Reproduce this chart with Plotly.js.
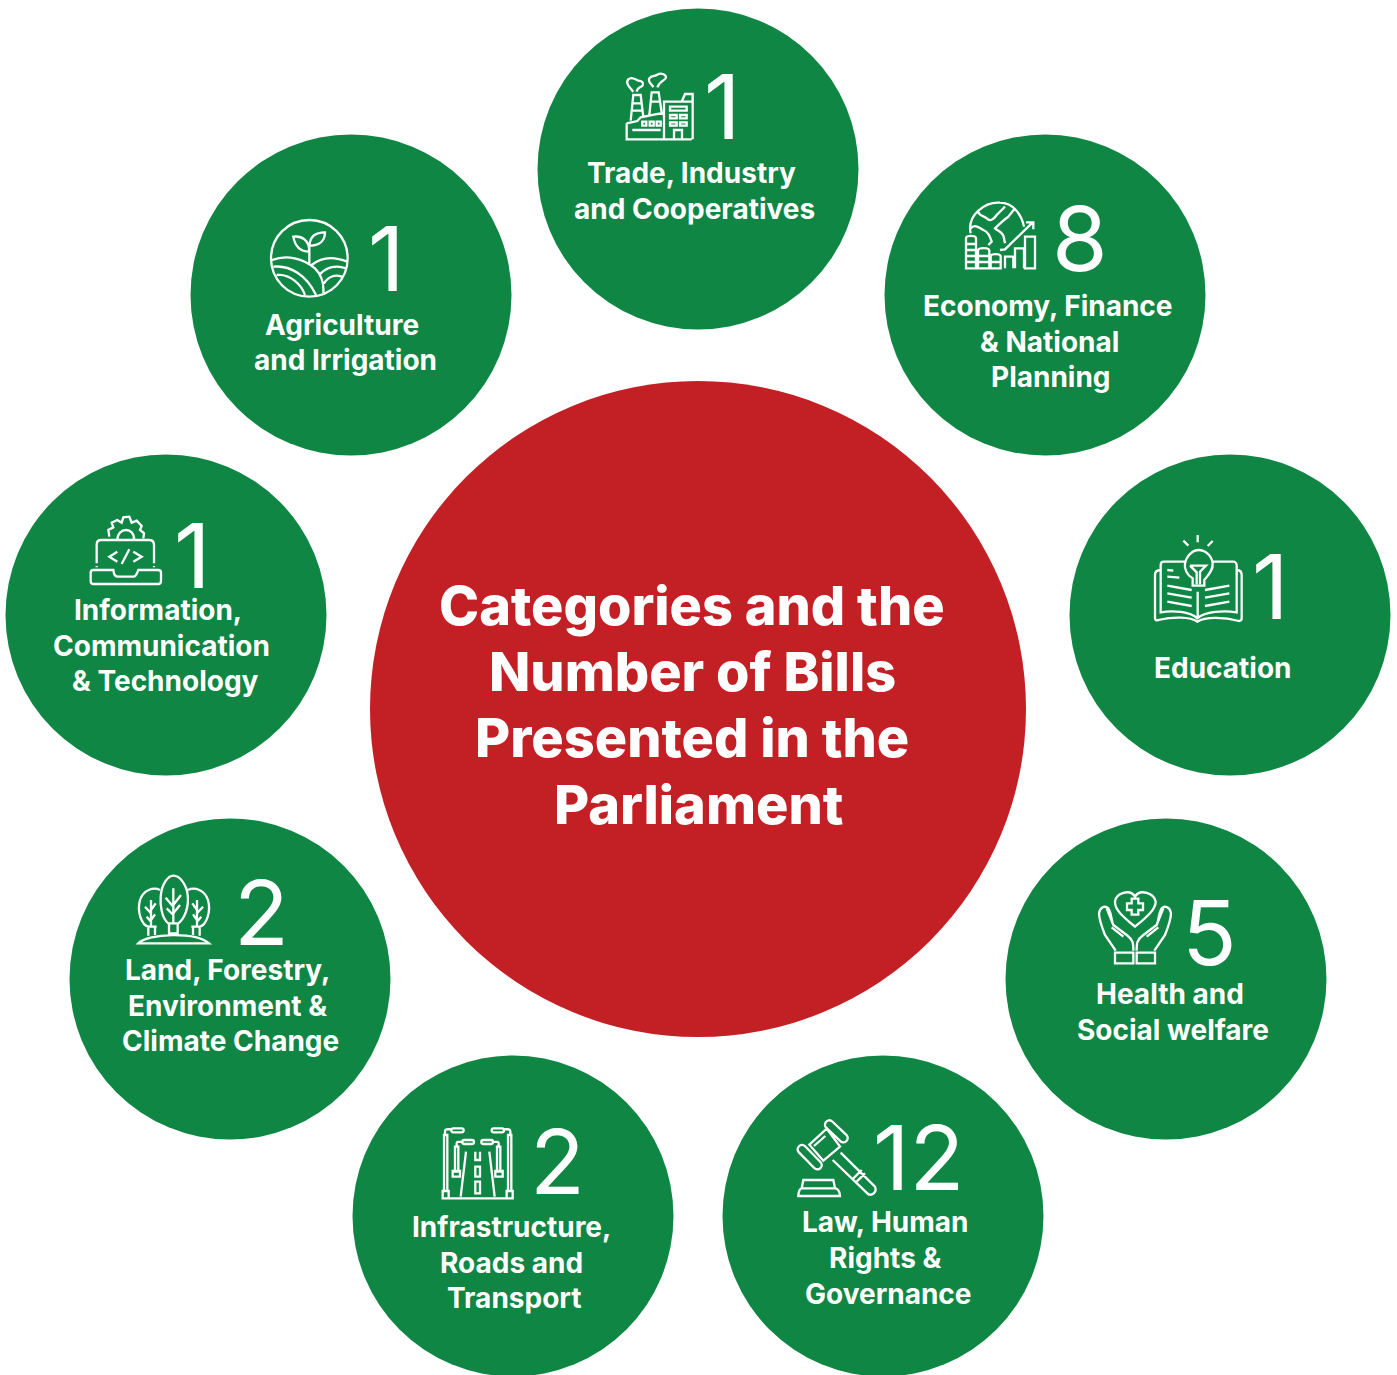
<!DOCTYPE html>
<html><head><meta charset="utf-8">
<script src="https://cdn.plot.ly/plotly-3.0.1.min.js"></script>
<style>html,body{margin:0;padding:0;background:#fff}#c{width:1397px;height:1375px}</style>
</head><body><div id="c"></div>
<script>
// ---------- data ----------
const titleLines = ["Categories and the","Number of Bills","Presented in the","Parliament"];
const categories = [
 ["Trade, Industry","and Cooperatives"],
 ["Economy, Finance","& National","Planning"],
 ["Education"],
 ["Health and","Social welfare"],
 ["Law, Human","Rights &","Governance"],
 ["Infrastructure,","Roads and","Transport"],
 ["Land, Forestry,","Environment &","Climate Change"],
 ["Information,","Communication","& Technology"],
 ["Agriculture","and Irrigation"]
];
const billCounts = [1,8,1,5,12,2,2,1,1];

// ---------- layout of the diagram (page pixels) ----------
const GREEN="#0F8643", RED="#C32026", WHITE="#FFFFFF";
const centerX=[698,1045,1230,1166,883,513,230,166,351];
const centerY=[169,295,615,979,1216,1216,979,615,295];
const numX=[722,1080,1270,1209,919,557,261,192,386];
const numY=[106,238,586,932,1157,1161,912,555,258];
const lineX=[[691,694],[1048,1049,1051],[1223],[1170,1173],[885,885,888],[511,511,514],[227,227,230],[158,161,165],[342,345]];
const lineY=[[173,209],[306,342,377],[668],[994,1030],[1222,1258,1294],[1227,1263,1298],[970,1006,1041],[610,646,681],[325,360]];
const titleX=[692,692,692,698], titleY=[605,671,737,804];
const FONT="Inter";

// ---------- icons: outlines drawn on a 3x grid, placed at an origin ----------
function R(a,b,c,d){return `M${a} ${b}L${c} ${b}L${c} ${d}L${a} ${d}Z`;}
function cap(x0,y0,x1,y1,r){ // capsule
  const dx=x1-x0,dy=y1-y0,l=Math.hypot(dx,dy),ux=dx/l,uy=dy/l,nx=-uy*r,ny=ux*r,k=r*1.33;
  return `M${x0+nx} ${y0+ny}L${x1+nx} ${y1+ny}C${x1+nx+ux*k} ${y1+ny+uy*k} ${x1-nx+ux*k} ${y1-ny+uy*k} ${x1-nx} ${y1-ny}L${x0-nx} ${y0-ny}C${x0-nx-ux*k} ${y0-ny-uy*k} ${x0+nx-ux*k} ${y0+ny-uy*k} ${x0+nx} ${y0+ny}Z`;
}
function mirror(p,m){ // reflect a path across x=m
  return p.replace(/(-?[\d.]+) (-?[\d.]+)/g,(s,x,y)=>`${2*m-x} ${y}`);
}
const icons=[
 {o:[600,60],p:[
  "M80 190L80 238L275 238","M80 190L112 183L122 172L192 158",
  "M192 238L192 125L278 125L278 238","M245 125L255 102L278 102L278 125",
  R(210,140,260,152),R(210,165,230,175),R(240,165,260,175),R(210,187,230,197),R(240,187,260,197),
  "M222 238L222 210L246 210L246 238",R(127,185,139,197),R(149,185,161,197),R(170,185,182,197),"M97 210L182 210",
  "M92 182L100 105L122 105L130 172","M97 130L125 130","M95 152L127 152",
  "M148 165L155 97L176 97L185 158","M152 125L180 125",
  "M100 95C88 80 75 70 85 58C95 48 105 58 115 62C125 62 132 68 128 76C122 84 112 80 110 95",
  "M160 82C155 72 142 65 148 55C155 45 165 50 172 44C182 38 198 42 198 52C198 62 180 60 172 82"]},
 {o:[950,190],p:[
  "M62 130C50 75 105 35 150 38C190 38 215 75 222 110",
  "M85 60C85 80 100 75 110 85C120 95 130 90 140 75L155 60L165 50",
  "M62 115C75 100 90 115 100 120C115 125 120 140 125 155L115 165",
  "M195 55L175 80C160 90 150 100 135 115C145 125 160 125 162 145L165 160",
  "M150 180L165 178L245 100","M228 97L250 97L250 118",
  "M165 235L165 200L190 200L190 235","M195 235L195 175L222 175L222 235",R(225,140,255,235),
  "M48 145C48 135 78 135 78 145L78 235L48 235Z","M48 162L78 162","M48 180L78 180","M48 198L78 198","M48 216L78 216",
  "M84 182C84 172 118 172 118 182L118 235L84 235Z","M84 198L118 198","M84 216L118 216",
  "M122 200C122 190 152 190 152 200L152 235L122 235Z","M122 216L152 216"]},
 {o:[1140,525],p:[
  "M158 160C140 150 132 130 135 115C140 90 160 75 175 75C195 75 215 90 218 115C220 135 205 150 193 165L193 182L158 182Z",
  "M150 122L198 122L180 140L180 178","M150 122L170 142L170 178",
  "M173 30L173 52","M130 47L145 62","M218 48L203 63",
  "M135 110L72 110C65 110 62 115 62 120L62 262C100 255 150 260 172 280C195 260 250 255 290 262L290 120C290 115 285 110 280 110L218 110",
  "M62 135C50 135 45 140 45 150L45 280C45 285 50 288 55 285C100 275 150 275 172 290C195 275 250 275 297 288C302 288 305 285 305 280L305 150C305 140 300 135 290 135",
  "M173 200L173 280","M82 135L100 137","M82 155L118 158","M82 182L155 195","M82 205L155 218","M82 230L155 243",
  "M195 195L268 182","M195 218L268 205","M195 243L268 230"]},
 {o:[1085,880],p:(()=>{
  const hand=["M92 212L60 165C50 140 42 110 42 100C45 82 60 75 70 85C80 100 78 120 85 135L125 165C145 180 145 190 145 212",
              "M65 85L85 135","M80 142L115 170",R(90,218,145,250)];
  return ["M150 140C120 115 88 90 90 65C92 40 135 25 150 50C165 25 208 40 212 65C212 90 180 115 150 140Z",
   "M140 56L160 56L160 70L174 70L174 90L160 90L160 104L140 104L140 90L126 90L126 70L140 70Z",
   ...hand,...hand.map(h=>mirror(h,150))];})()},
 {o:[790,1110],p:[
  "M58 104L110 56L150 110L100 152Z",cap(118,44,160,84,13),cap(36,118,82,165,13),
  "M152 128L255 230C262 245 245 262 232 250L128 150","M190 205L215 180","M200 215L225 190","M72 108L106 78",
  "M40 210L130 210L135 235L35 235Z","M25 258L150 258C150 240 140 235 135 235L35 235C30 235 25 245 25 258Z"]},
 {o:[430,1115],p:(()=>{
  const half=["M42 228L42 60L52 60L52 228","M45 60L45 48C45 42 50 42 65 42",cap(70,46,95,46,6),R(38,228,56,250),
    R(75,95,85,170),"M80 95L80 84C80 80 85 80 98 80",cap(103,81,126,81,6),R(68,168,90,185),"M108 110L92 245"];
  return [...half,...half.map(h=>mirror(h,143)),"M38 250L248 250",
    "M136 110L136 135L150 135L150 110",R(136,155,150,185),R(136,200,150,235)];})()},
 {o:[125,865],p:(()=>{
  const side=["M105 75C85 65 55 75 45 105C35 140 50 180 70 185L95 185","M70 185L70 212","M90 185L90 210",
    "M78 105L78 185","M60 125L78 145","M92 115L78 135","M65 155L78 170","M90 148L78 165"];
  return ["M130 175C110 160 105 120 107 95C110 55 130 32 145 32C165 32 185 60 188 90C192 125 180 160 160 175Z",
   "M132 177L132 205L158 205L158 177","M145 70L145 175","M122 98L145 125","M168 90L145 120","M125 130L145 150","M165 120L145 145",
   ...side,...side.map(h=>mirror(h,147)),"M40 235C70 205 210 200 252 235Z"];})()},
 {o:[80,510],p:[
  "M50 160L50 105C50 95 55 90 62 90L208 90C218 90 222 95 222 105L222 160",
  "M50 168L50 172","M222 168L222 172",
  "M40 180L100 180C102 195 105 200 115 200L160 200C170 200 170 190 175 180L235 180C240 180 243 182 243 188L243 212C243 218 240 222 235 222L40 222C35 222 32 218 32 212L32 188C32 182 35 180 40 180Z",
  "M112 125L88 140L112 155","M160 125L185 140L160 155","M148 118L125 162",
  "M88 80L85 60L100 52L95 38L112 30L125 38L130 22L148 20L155 38L170 32L185 48L180 60L192 70L190 85",
  "M112 90C112 50 165 50 162 90"]},
 {o:[260,215],p:[
  "M33 130C33 66 84 15 148 15C212 15 263 66 263 130C263 194 212 245 148 245C84 245 33 194 33 130Z",
  "M148 148L148 85","M148 110C120 110 105 95 100 65C125 62 148 75 148 110","M148 92C150 60 170 52 195 52C195 80 175 92 148 92",
  "M36 135C80 118 130 130 165 160C185 180 192 210 190 235","M40 155C90 150 140 180 168 240","M50 180C90 175 125 210 135 240",
  "M155 150C185 125 225 125 262 140","M180 178C200 155 230 150 258 160","M192 205C205 185 225 178 245 185"]}
];
function place(path,o){
  return path.replace(/(-?[\d.]+) (-?[\d.]+)/g,(s,x,y)=>`${(o[0]+x/3).toFixed(2)} ${(o[1]+y/3).toFixed(2)}`);
}
const shapes=icons.map(ic=>({type:"path",xref:"x",yref:"y",path:ic.p.map(p=>place(p,ic.o)).join(""),
  line:{color:WHITE,width:2.3},fillcolor:"rgba(0,0,0,0)"}));

// ---------- traces ----------
const traces=[
 {type:"scatter",mode:"markers",x:[698],y:[709],hoverinfo:"skip",cliponaxis:false,
  marker:{size:656,color:RED,line:{width:0}}},
 {type:"scatter",mode:"markers",x:centerX,y:centerY,hoverinfo:"skip",cliponaxis:false,
  customdata:billCounts,marker:{size:321,color:GREEN,line:{width:0}}}
];
const annotations=[];
function note(text,x,y,size,weight){
  annotations.push({text:String(text),x,y,xref:"x",yref:"y",showarrow:false,xanchor:"center",yanchor:"middle",
    font:{family:FONT,size,color:WHITE,weight}});
}
titleLines.forEach((t,i)=>note(t,titleX[i],titleY[i],54,800));
categories.forEach((lines,i)=>{
  lines.forEach((t,j)=>note(t,lineX[i][j],lineY[i][j],28,700));
  note(billCounts[i],numX[i],numY[i],90,400);
});
Plotly.newPlot("c",traces,{
  width:1397,height:1375,margin:{l:0,r:0,t:0,b:0},showlegend:false,
  paper_bgcolor:"#fff",plot_bgcolor:"#fff",
  xaxis:{range:[0,1397],visible:false,fixedrange:true},
  yaxis:{range:[1375,0],visible:false,fixedrange:true},
  shapes,annotations
},{displayModeBar:false,responsive:false});
</script></body></html>
